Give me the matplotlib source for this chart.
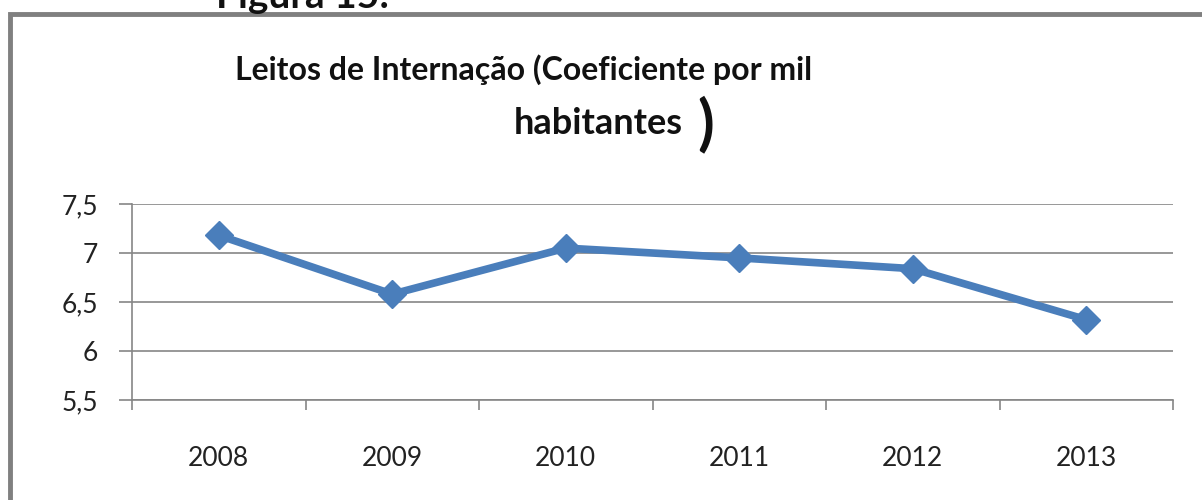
import matplotlib.pyplot as plt
from matplotlib.patches import Rectangle

years = ['2008', '2009', '2010', '2011', '2012', '2013']
leitos = [7.18, 6.58, 7.05, 6.95, 6.84, 6.32]
y_ticks = [5.5, 6, 6.5, 7, 7.5]
y_labels = ['5,5', '6', '6,5', '7', '7,5']

plt.rcParams['font.family'] = ['Lato', 'DejaVu Sans']

fig = plt.figure(figsize=(12.02, 5.0), dpi=100)
ax = fig.add_axes([132 / 1202, 0.2, (1173 - 132) / 1202, 0.392])

x = list(range(len(years)))
ax.plot(x, leitos, color='#4A7EBB', linewidth=5.5, marker='D', markersize=14,
        solid_capstyle='round', zorder=3)

ax.set_xlim(-0.5, len(years) - 0.5)
ax.set_ylim(5.5, 7.5)
ax.set_yticks(y_ticks)
ax.set_yticklabels(y_labels)
ax.set_xticks(x)
ax.set_xticklabels(years)
ax.set_xticks([i - 0.5 for i in range(len(years) + 1)], minor=True)

ax.grid(axis='y', color='#868686', linewidth=1.2)
for s in ['top', 'right']:
    ax.spines[s].set_visible(False)
for s in ['left', 'bottom']:
    ax.spines[s].set_color('#868686')
    ax.spines[s].set_linewidth(1.2)

ax.tick_params(axis='y', length=9.5, width=1.2, color='#868686', pad=15,
               labelsize=19, labelcolor='#222222')
ax.tick_params(axis='x', which='major', length=0, pad=33,
               labelsize=19, labelcolor='#222222')
ax.tick_params(axis='x', which='minor', length=7, width=1.2, color='#868686')

# title
fig.text(524 / 1202, 1 - 70 / 500, 'Leitos de Internação (Coeficiente por mil',
         ha='center', va='center', fontsize=23, fontweight='bold', color='#111111')
fig.text(598 / 1202, 1 - 124 / 500, 'habitantes', ha='center', va='center',
         fontsize=26, fontweight='bold', color='#111111')
fig.text(706 / 1202, 1 - 124 / 500, ')', ha='center', va='center',
         fontsize=44, fontweight='bold', color='#111111')

# caption partially cut off at the top
fig.text(303 / 1202, 1 - 8 / 500, 'Figura 15:', ha='center', va='baseline',
         fontsize=28, fontweight='bold', color='#111111')

# frame around the chart
fig.patches.append(Rectangle((10 / 1202, -0.1), 1.2, (1 - 14 / 500) + 0.1,
                             transform=fig.transFigure, fill=False,
                             edgecolor='#808080', linewidth=3.5))

fig.savefig('out.png', dpi=100)
